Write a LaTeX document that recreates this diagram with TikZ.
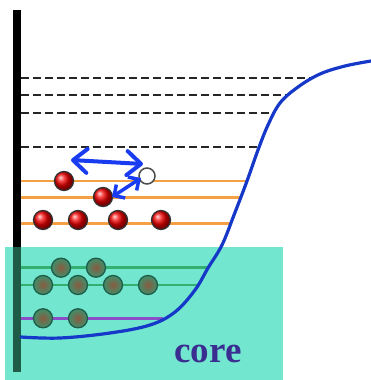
\documentclass[tikz,border=0pt]{standalone}
\usepackage{fontspec}
\setmainfont{Liberation Serif}
\usetikzlibrary{arrows.meta}
\definecolor{teal1}{HTML}{72E6CF}
\definecolor{bardark}{HTML}{1E5C48}
\definecolor{curveblue}{HTML}{1538C8}
\definecolor{arrowblue}{HTML}{1A3CF0}
\definecolor{orng}{HTML}{F5A045}
\definecolor{grn}{HTML}{33B070}
\definecolor{purp}{HTML}{8A4FC8}
\definecolor{coretxt}{HTML}{3B2E91}
\definecolor{gin}{HTML}{8A5A40}
\definecolor{gout}{HTML}{3F8F6A}
\tikzset{
  dashlevel/.style={draw=black!85, line width=1.8pt, dash pattern=on 8pt off 4pt},
  orangelevel/.style={draw=orng, line width=2.8pt},
  greenlevel/.style={draw=grn, line width=2.8pt},
  purplelevel/.style={draw=purp, line width=2.8pt},
  redball/.style={circle, minimum size=19pt, inner sep=0pt, draw=black!80, line width=1.3pt, shading=ball, ball color=red!95!black},
  greenball/.style={circle, minimum size=19pt, inner sep=0pt, draw=bardark, line width=1.3pt, inner color=gin, outer color=gout},
  holeball/.style={circle, minimum size=16pt, inner sep=0pt, draw=black!70, line width=1.5pt, fill=white},
  barrow/.style={draw=arrowblue, line width=4pt, line cap=round, {Straight Barb[length=14pt,width=24pt,round]}-{Straight Barb[length=14pt,width=24pt,round]}},
  barrowsmall/.style={draw=arrowblue, line width=3.5pt, {Straight Barb[length=8pt,width=16pt]}-{Straight Barb[length=8pt,width=16pt]}},
}
\begin{document}
\begin{tikzpicture}[x=1pt,y=-1pt]
\useasboundingbox (0,0) rectangle (371,380);
% core region
\fill[teal1] (5,247) rectangle (283,380);
% wall
\fill[black] (13,10) rectangle (21,247);
\fill[bardark] (13,247) rectangle (21,372);
% dashed levels
\draw[dashlevel] (21,78) -- (313,78);
\draw[dashlevel] (21,95.3) -- (289,95.3);
\draw[dashlevel] (21,112.7) -- (275,112.7);
\draw[dashlevel] (21,146.7) -- (260,146.7);
% orange levels
\draw[orangelevel] (21,181) -- (247,181);
\draw[orangelevel] (21,197.3) -- (241,197.3);
\draw[orangelevel] (21,223.3) -- (231,223.3);
% core levels
\draw[greenlevel] (21,267.7) -- (208,267.7);
\draw[greenlevel] (21,285) -- (197,285);
\draw[purplelevel] (21,318.3) -- (163,318.3);
% potential curve
\draw[curveblue, line width=3.2pt, line cap=round] plot[smooth, tension=0.6] coordinates {
 (21,337) (60,338) (110,333) (150,325) (175,312) (195,290) (208,268)
 (222,245) (234,215) (247,181) (258,150) (268,125) (280,103) (298,87)
 (320,74) (345,66) (371,61)};
% electrons
\node[redball] (r1) at (64,181) {};
\node[redball] (r2) at (103,197) {};
\node[redball] (r3) at (43,220) {};
\node[redball] (r4) at (78,220) {};
\node[redball] (r5) at (118,220) {};
\node[redball] (r6) at (161,220) {};
\node[holeball] (h1) at (147,176) {};
% core electrons
\node[greenball] (g1) at (61,267.7) {};
\node[greenball] (g2) at (96,267.7) {};
\node[greenball] (g3) at (43,285) {};
\node[greenball] (g4) at (78,285) {};
\node[greenball] (g5) at (113,285) {};
\node[greenball] (g6) at (148,285) {};
\node[greenball] (g7) at (43,318.3) {};
\node[greenball] (g8) at (78,318.3) {};
% arrows
\coordinate (a1) at (71,160);
\coordinate (a2) at (143,164);
\draw[barrow] (a1) -- (a2);
\coordinate (b1) at (112,197);
\coordinate (b2) at (141,178);
\draw[barrowsmall] (b1) -- (b2);
% label
\node[text=coretxt, font=\fontsize{37}{40}\selectfont\bfseries, inner sep=0pt] (core) at (208,354) {core};
\end{tikzpicture}
\end{document}
